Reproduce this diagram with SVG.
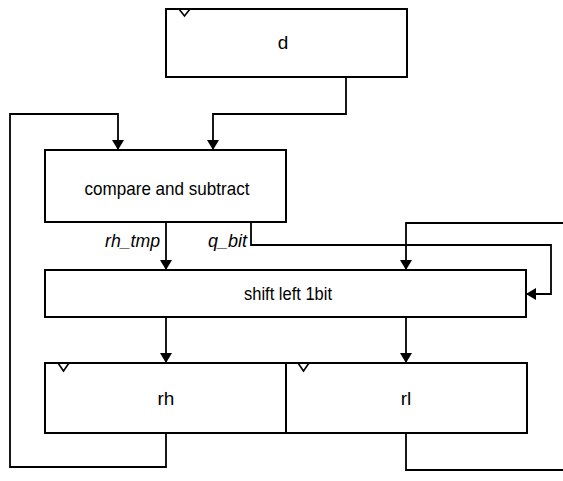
<svg xmlns="http://www.w3.org/2000/svg" width="563" height="481" viewBox="0 0 563 481">
<style>
.box{fill:#fff;stroke:#000;stroke-width:2}
.clk{fill:none;stroke:#000;stroke-width:1.6}
.wire{fill:none;stroke:#000;stroke-width:1.8}
.t{font-family:"Liberation Sans",Arial,sans-serif;font-size:19px;fill:#000;text-anchor:middle}
.lbl{font-family:"Liberation Sans",Arial,sans-serif;font-size:18px;font-style:italic;fill:#000}
</style>
<defs>
<marker id="ah" markerWidth="10" markerHeight="12" refX="10" refY="6" orient="auto" markerUnits="userSpaceOnUse">
<path d="M0,0 L10,6 L0,12 Z" fill="#000"/>
</marker>
</defs>
<rect width="563" height="481" fill="#fff"/>
<g id="connectors">
<path class="wire" d="M166,433 V467 H10 V114 H118 V150" marker-end="url(#ah)"/>
<path class="wire" d="M346,77 V114 H213 V150" marker-end="url(#ah)"/>
<path class="wire" d="M166,222 V270" marker-end="url(#ah)"/>
<path class="wire" d="M251,222 V245 H551 V294 H526" marker-end="url(#ah)"/>
<path class="wire" d="M563,223 H406 V270" marker-end="url(#ah)"/>
<path class="wire" d="M166,317 V363" marker-end="url(#ah)"/>
<path class="wire" d="M406,317 V363" marker-end="url(#ah)"/>
<path class="wire" d="M406,433 V470 H563"/>
<text class="lbl" x="105" y="247" textLength="55" lengthAdjust="spacingAndGlyphs">rh_tmp</text>
<text class="lbl" x="208" y="247" textLength="39" lengthAdjust="spacingAndGlyphs">q_bit</text>
</g>
<g id="d">
<rect class="box" x="166" y="9" width="241" height="68"/>
<path class="clk" d="M179,9 L184.5,16 L190,9"/>
<text class="t" x="283" y="49">d</text>
</g>
<g id="compare">
<rect class="box" x="45" y="150" width="241" height="72"/>
<text class="t" x="167" y="195" textLength="165" lengthAdjust="spacingAndGlyphs">compare and subtract</text>
</g>
<g id="shift">
<rect class="box" x="45" y="270" width="481" height="47"/>
<text class="t" x="288" y="300" textLength="88" lengthAdjust="spacingAndGlyphs">shift left 1bit</text>
</g>
<g id="rh">
<rect class="box" x="45" y="363" width="241" height="70"/>
<path class="clk" d="M58,363 L63.5,371 L69,363"/>
<text class="t" x="166" y="405">rh</text>
</g>
<g id="rl">
<rect class="box" x="286" y="363" width="241" height="70"/>
<path class="clk" d="M298,363 L303.5,371 L309,363"/>
<text class="t" x="406" y="405">rl</text>
</g>
</svg>
